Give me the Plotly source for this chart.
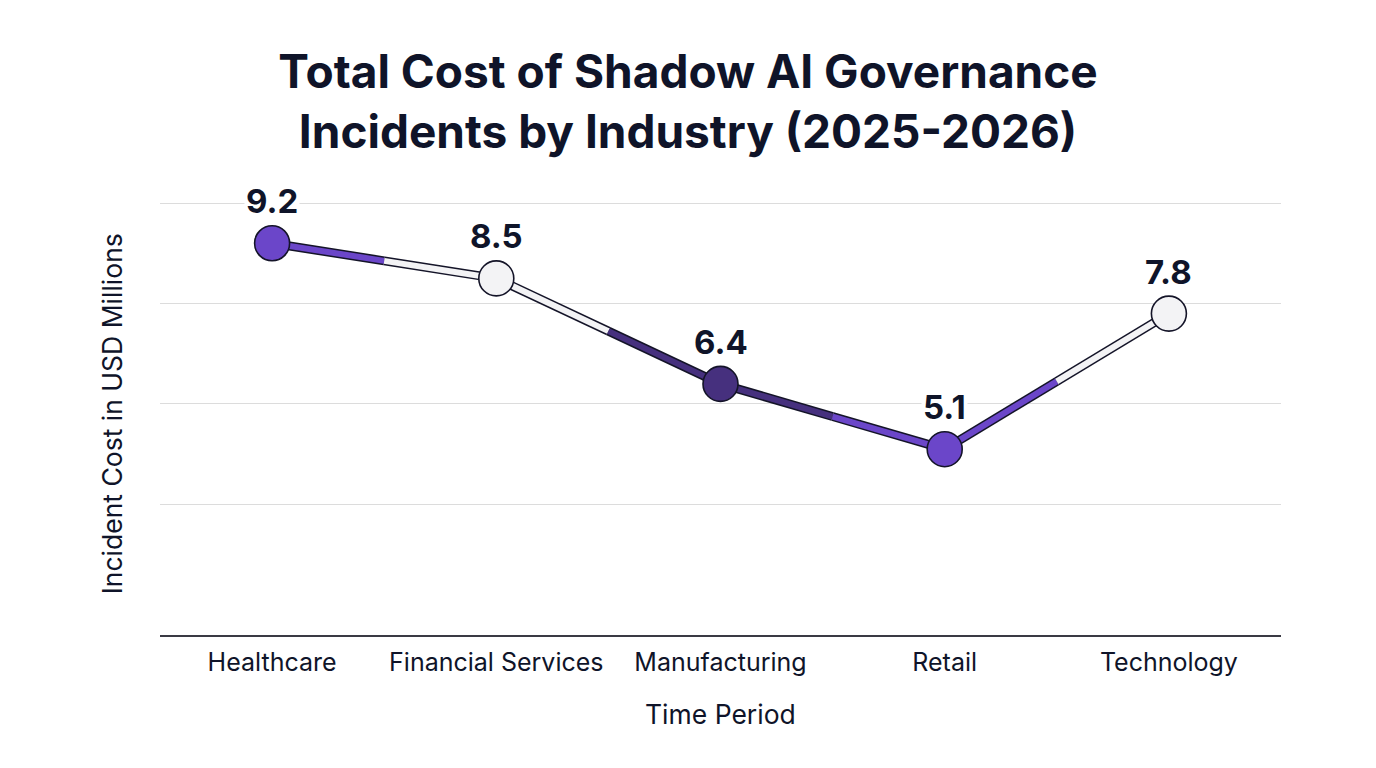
import plotly.graph_objects as go

categories = ["Healthcare", "Financial Services", "Manufacturing", "Retail", "Technology"]
costs = [9.2, 8.5, 6.4, 5.1, 7.8]
point_colors = ["#6B46C9", "#F3F3F5", "#46307E", "#6B46C9", "#F3F3F5"]
grid_values = [4, 6, 8, 10]

OUTLINE = "#141428"
TEXT = "#0F1429"
FONT = "Inter"

xs = list(range(len(categories)))
fig = go.Figure()

# half-segments: each half takes the color of its nearest point
halves = []
for i in range(len(xs) - 1):
    mx = (xs[i] + xs[i + 1]) / 2
    my = (costs[i] + costs[i + 1]) / 2
    halves.append(([xs[i], mx], [costs[i], my], point_colors[i]))
    halves.append(([mx, xs[i + 1]], [my, costs[i + 1]], point_colors[i + 1]))

for hx, hy, c in halves:
    fig.add_trace(go.Scatter(x=hx, y=hy, mode="lines",
                             line=dict(color=OUTLINE, width=9),
                             hoverinfo="skip", showlegend=False))
for hx, hy, c in halves:
    fig.add_trace(go.Scatter(x=hx, y=hy, mode="lines",
                             line=dict(color=c, width=6),
                             hoverinfo="skip", showlegend=False))

fig.add_trace(go.Scatter(
    x=xs, y=costs, mode="markers",
    marker=dict(size=35, color=point_colors, line=dict(color=OUTLINE, width=1.6)),
    customdata=categories,
    hovertemplate="%{customdata}: %{y}<extra></extra>",
    showlegend=False))

for x, v in zip(xs, costs):
    fig.add_annotation(x=x, y=v, text=f"<b>{v}</b>", showarrow=False,
                       yshift=42, yanchor="middle", bgcolor="white",
                       font=dict(family=FONT, size=33, color=TEXT))

fig.add_annotation(text="Incident Cost in USD Millions", xref="paper", yref="paper",
                   x=-0.043, y=0.49, textangle=-90, showarrow=False,
                   xanchor="center", yanchor="middle",
                   font=dict(family=FONT, size=26.5, color=TEXT))
fig.add_annotation(text="Time Period", xref="paper", yref="paper",
                   x=0.5, y=-0.175, showarrow=False,
                   xanchor="center", yanchor="middle",
                   font=dict(family=FONT, size=26.5, color=TEXT))

fig.update_layout(
    width=1376, height=768,
    paper_bgcolor="white", plot_bgcolor="white",
    margin=dict(l=160, r=95, t=183, b=133),
    title=dict(text="<b>Total Cost of Shadow AI Governance<br>Incidents by Industry (2025-2026)</b>",
               x=0.5, xanchor="center", y=1 - 88 / 768, yanchor="middle",
               font=dict(family=FONT, size=46, color=TEXT)),
    xaxis=dict(range=[-0.5, len(categories) - 0.5], tickvals=xs, ticktext=categories,
               showgrid=False, zeroline=False, showline=True, linecolor="#3a3a44",
               linewidth=1.5, ticks="", ticklabelstandoff=4,
               tickfont=dict(family=FONT, size=25, color=TEXT)),
    yaxis=dict(range=[1.4, 10.4], tickvals=grid_values, showticklabels=False,
               showgrid=True, gridcolor="#DCDCDC", gridwidth=1.2, zeroline=False,
               showline=False, ticks=""),
)

fig.write_html("out.html")
